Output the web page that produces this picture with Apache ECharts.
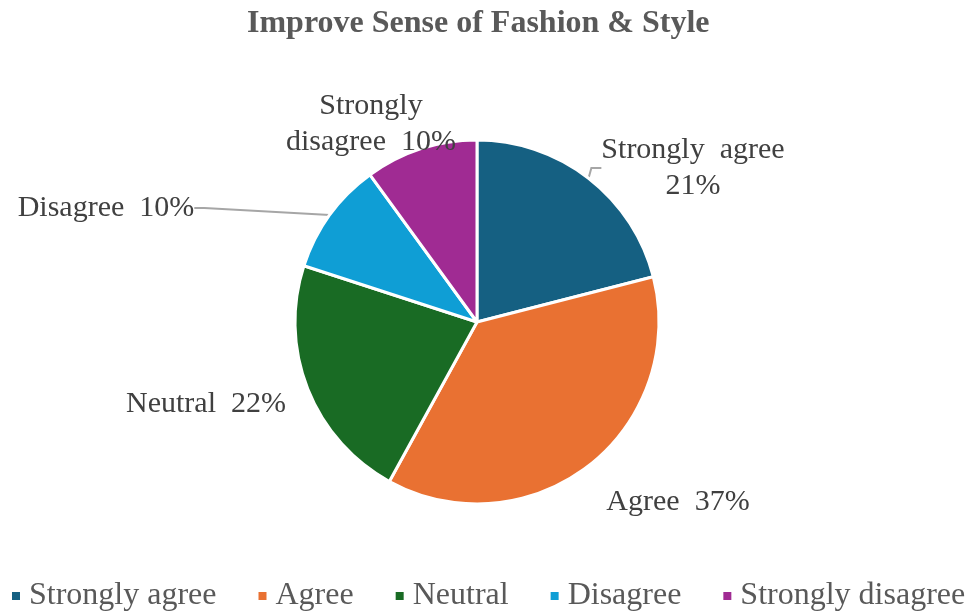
<!DOCTYPE html>
<html>
<head>
<meta charset="utf-8">
<script src="https://cdn.jsdelivr.net/npm/echarts@6/dist/echarts.min.js"></script>
<style>
  html, body { margin: 0; padding: 0; background: #fff; }
  #chart { width: 976px; height: 612px; }
</style>
</head>
<body>
<div id="chart"></div>
<script>
var categories = ['Strongly agree', 'Agree', 'Neutral', 'Disagree', 'Strongly disagree'];
var values = [21, 37, 22, 10, 10];
var colors = ['#156082', '#E97132', '#196B24', '#0F9ED5', '#A02B93'];
// how each slice label is written in the picture
var labelTexts = ['Strongly  agree\n21%', 'Agree  37%', 'Neutral  22%', 'Disagree  10%', 'Strongly\ndisagree  10%'];
// label centres
var labelSpots = [[693, 168], [678, 502], [206, 404], [106, 208], [371, 124]];
var showLine = [true, false, false, true, false];

var chart = echarts.init(document.getElementById('chart'));

var pieData = categories.map(function (name, i) {
    return {
        name: name,
        value: values[i],
        itemStyle: { color: colors[i] },
        labelLine: { show: showLine[i] }
    };
});

chart.setOption({
    animation: false,
    title: {
        text: 'Improve Sense of Fashion & Style',
        left: 247,
        top: 8,
        padding: 0,
        textStyle: {
            fontFamily: 'Liberation Serif',
            fontWeight: 'bold',
            fontSize: 32,
            color: '#595959'
        }
    },
    legend: {
        bottom: 0,
        left: 10,
        width: 966,
        padding: 0,
        itemWidth: 10,
        itemHeight: 10,
        itemGap: 40,
        icon: 'rect',
        textStyle: {
            fontFamily: 'Liberation Serif',
            fontSize: 32,
            color: '#595959',
            padding: [0, 0, 0, 3]
        },
        data: categories
    },
    series: [{
        type: 'pie',
        center: [477, 322],
        radius: 182,
        startAngle: 90,
        clockwise: true,
        itemStyle: { borderColor: '#fff', borderWidth: 3 },
        label: {
            show: true,
            position: 'outside',
            fontFamily: 'Liberation Serif',
            fontSize: 30,
            lineHeight: 36,
            color: '#404040',
            align: 'center',
            formatter: function (p) { return labelTexts[p.dataIndex]; }
        },
        labelLine: {
            show: true,
            length: 10,
            length2: 10,
            smooth: false,
            lineStyle: { color: '#A6A6A6', width: 2 }
        },
        labelLayout: function (p) {
            var s = labelSpots[p.dataIndex];
            return { x: s[0], y: s[1], align: 'center', verticalAlign: 'middle' };
        },
        emphasis: { disabled: true },
        data: pieData
    }]
});
</script>
</body>
</html>
